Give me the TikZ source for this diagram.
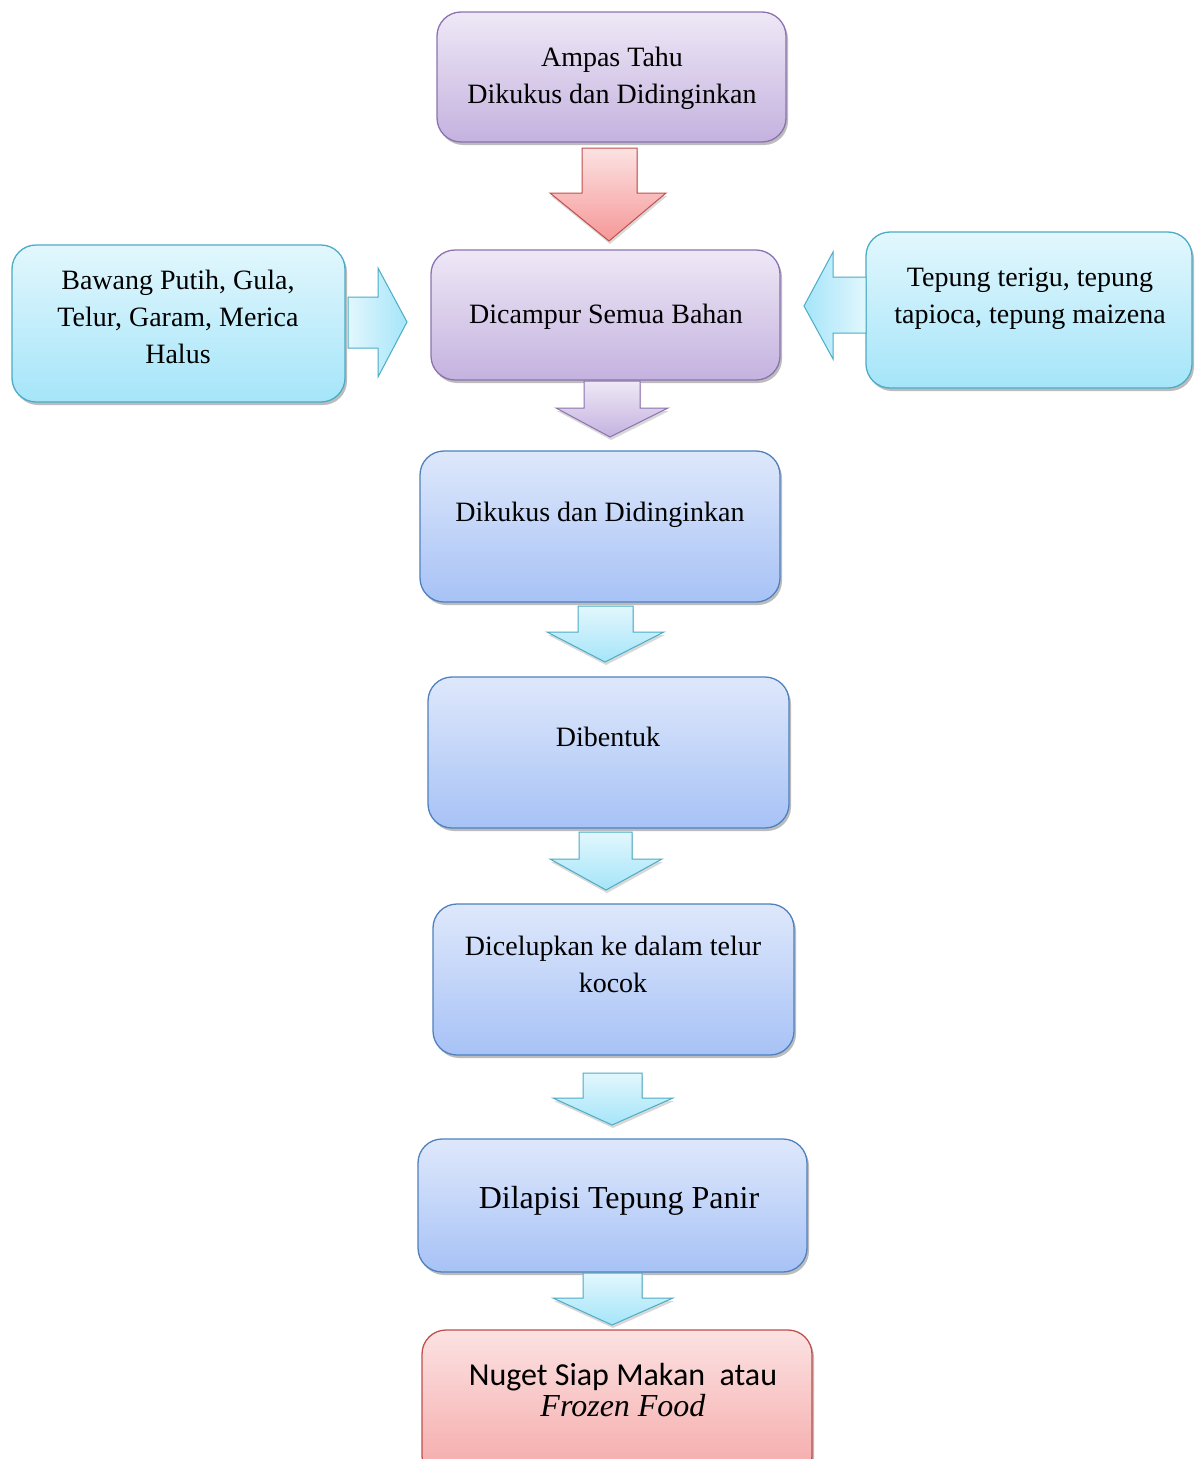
\documentclass[tikz,border=0pt]{standalone}
\usepackage{fontspec}
\setmainfont{Liberation Serif}
\newfontfamily\calib{Carlito}
\usetikzlibrary{shadows}
\definecolor{purpTop}{HTML}{EEE8F6}
\definecolor{purpBot}{HTML}{C4B2DF}
\definecolor{purpLine}{HTML}{8C72B0}
\definecolor{bluTop}{HTML}{DEE8FB}
\definecolor{bluBot}{HTML}{A7C2F6}
\definecolor{bluLine}{HTML}{4F81BD}
\definecolor{cyTop}{HTML}{E2F7FD}
\definecolor{cyBot}{HTML}{A5E5F9}
\definecolor{cyLine}{HTML}{4BACC6}
\definecolor{redTop}{HTML}{FCE2E2}
\definecolor{redBot}{HTML}{F5A8A8}
\definecolor{redLine}{HTML}{C0504D}
\tikzset{
  box/.style={rectangle, rounded corners=24pt, line width=1.3pt,
    drop shadow={shadow xshift=2pt, shadow yshift=-3pt, opacity=0.4, fill=black!65}},
  pbox/.style={box, draw=purpLine, top color=purpTop, bottom color=purpBot},
  bbox/.style={box, draw=bluLine, top color=bluTop, bottom color=bluBot},
  cbox/.style={box, draw=cyLine, top color=cyTop, bottom color=cyBot},
  rbox/.style={box, draw=redLine, top color=redTop, bottom color=redBot},
  txt/.style={align=center, font=\fontsize{28}{37}\selectfont, inner sep=0pt},
  ashadow/.style={drop shadow={shadow xshift=1pt, shadow yshift=-3pt, opacity=0.3}},
  parrow/.style={draw=purpLine, line width=1pt, top color=purpTop, bottom color=purpBot, ashadow},
  carrow/.style={draw=cyLine, line width=1pt, top color=cyTop, bottom color=cyBot, ashadow},
  rarrow/.style={draw=redLine, line width=1pt, top color=redTop, bottom color=redBot!90!red, ashadow},
}
\begin{document}
\begin{tikzpicture}[x=1pt,y=-1pt]
\useasboundingbox (0,0) rectangle (1194,1459);
\clip (0,0) rectangle (1194,1459);
\fill[white] (0,0) rectangle (1194,1459);

% boxes
\node[pbox, minimum width=349pt, minimum height=130pt] (b1) at (611.5,77) {};
\node[pbox, minimum width=349pt, minimum height=130pt] (b2) at (605.5,315) {};
\node[cbox, minimum width=333pt, minimum height=157pt] (bl) at (178.5,323.5) {};
\node[cbox, minimum width=326pt, minimum height=156pt] (br) at (1029,310) {};
\node[bbox, minimum width=360pt, minimum height=151pt] (b3) at (600,526.5) {};
\node[bbox, minimum width=361pt, minimum height=151pt] (b4) at (608.5,752.5) {};
\node[bbox, minimum width=361pt, minimum height=151pt] (b5) at (613.5,979.5) {};
\node[bbox, minimum width=389pt, minimum height=133pt] (b6) at (612.5,1205.5) {};
\node[rbox, minimum width=390pt, minimum height=150pt] (b7) at (617,1405) {};

% texts
\node[txt] (t1) at (612,78) {Ampas Tahu\\Dikukus dan Didinginkan};
\node[txt] (t2) at (606,317) {Dicampur Semua Bahan};
\node[txt] (tl) at (178,317) {Bawang Putih, Gula,\\Telur, Garam, Merica\\Halus};
\node[txt] (tr) at (1030,299) {Tepung terigu, tepung\\tapioca, tepung maizena};
\node[txt] (t3) at (600,515) {Dikukus dan Didinginkan};
\node[txt] (t4) at (608,737) {Dibentuk};
\node[txt] (t5) at (613,964) {Dicelupkan ke dalam telur\\kocok};
\node[txt, font=\fontsize{32}{37}\selectfont] (t6) at (619,1201) {Dilapisi Tepung Panir};
\node[txt, font=\fontsize{32}{31}\selectfont] (t7) at (623,1390)
  {{\calib Nuget Siap Makan\ \ atau}\\{\rmfamily\itshape Frozen Food}};

% block arrows
\draw[rarrow]
  (582,148) -- (637,148) -- (637,193) -- (666,193) -- (609,241) -- (550,193) -- (582,193) -- cycle;
\draw[parrow]
  (584,381) -- (640,381) -- (640,408) -- (668,408) -- (610,437) -- (556,408) -- (584,408) -- cycle;
\draw[draw=cyLine, line width=1pt, left color=cyTop, right color=cyBot]
  (348,297) -- (378,297) -- (378,268) -- (407,322) -- (378,377) -- (378,348) -- (348,348) -- cycle;
\draw[draw=cyLine, line width=1pt, left color=cyBot, right color=cyTop]
  (866,277) -- (833,277) -- (833,252) -- (804,306) -- (833,359) -- (833,333) -- (866,333) -- cycle;
\draw[carrow]
  (578,606) -- (633,606) -- (633,632) -- (664,632) -- (605,662) -- (547,632) -- (578,632) -- cycle;
\draw[carrow]
  (579,832) -- (632,832) -- (632,859) -- (662,859) -- (606,890) -- (550,859) -- (579,859) -- cycle;
\draw[carrow]
  (583,1073) -- (642,1073) -- (642,1098) -- (673,1098) -- (612,1125) -- (553,1098) -- (583,1098) -- cycle;
\draw[carrow]
  (583,1273) -- (642,1273) -- (642,1298) -- (673,1298) -- (612,1325) -- (553,1298) -- (583,1298) -- cycle;
\end{tikzpicture}
\end{document}
